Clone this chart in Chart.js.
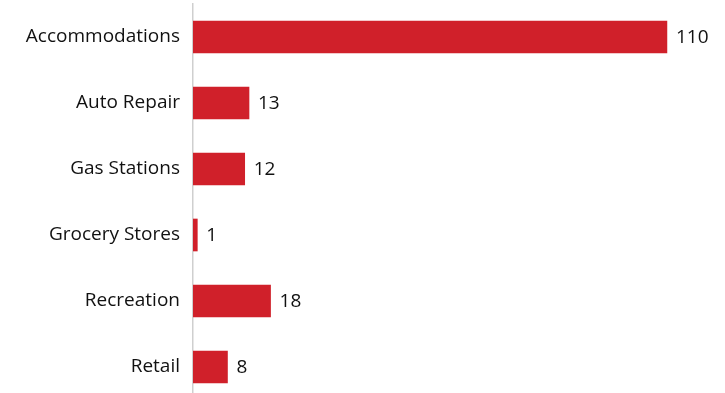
<!DOCTYPE html>
<html><head><meta charset="utf-8">
<script src="https://cdn.jsdelivr.net/npm/chart.js@4"></script>
<style>html,body{margin:0;padding:0;overflow:hidden;background:#fff}#wrap{width:725px;height:400px}</style>
</head><body><div id="wrap"><canvas id="c" width="725" height="400"></canvas></div>
<script>
const categories = ["Accommodations","Auto Repair","Gas Stations","Grocery Stores","Recreation","Retail"];
const values = [110, 13, 12, 1, 18, 8];
const FONT = "'Open Sans', sans-serif";

const valueLabels = {
  id: 'valueLabels',
  afterDatasetsDraw(chart) {
    const ctx = chart.ctx;
    const meta = chart.getDatasetMeta(0);
    ctx.save();
    ctx.font = "19px " + FONT;
    ctx.fillStyle = "#111";
    ctx.textBaseline = "middle";
    ctx.textAlign = "left";
    meta.data.forEach((bar, i) => {
      ctx.fillText(String(values[i]), bar.x + 9, bar.y + 1);
    });
    ctx.restore();
  }
};

new Chart(document.getElementById('c'), {
  type: 'bar',
  data: { labels: categories, datasets: [{ data: values, backgroundColor: '#d0202a', borderWidth: 0, barThickness: 32 }] },
  options: {
    indexAxis: 'y',
    responsive: false,
    animation: false,
    layout: { padding: { top: 4, right: 15, left: 0, bottom: 0 } },
    plugins: { legend: { display: false }, tooltip: { enabled: false } },
    scales: {
      x: { min: 0, max: 120, display: false, grid: { display: false } },
      y: {
        afterFit(s) { s.width = 193; s.paddingTop = 0; s.paddingBottom = 0; },
        grid: { display: false, drawTicks: false },
        border: { display: true, color: '#cfcfcf', width: 1.5 },
        ticks: { color: '#111', font: { family: FONT, size: 19 }, padding: 13 }
      }
    }
  },
  plugins: [valueLabels]
});
</script></body></html>
